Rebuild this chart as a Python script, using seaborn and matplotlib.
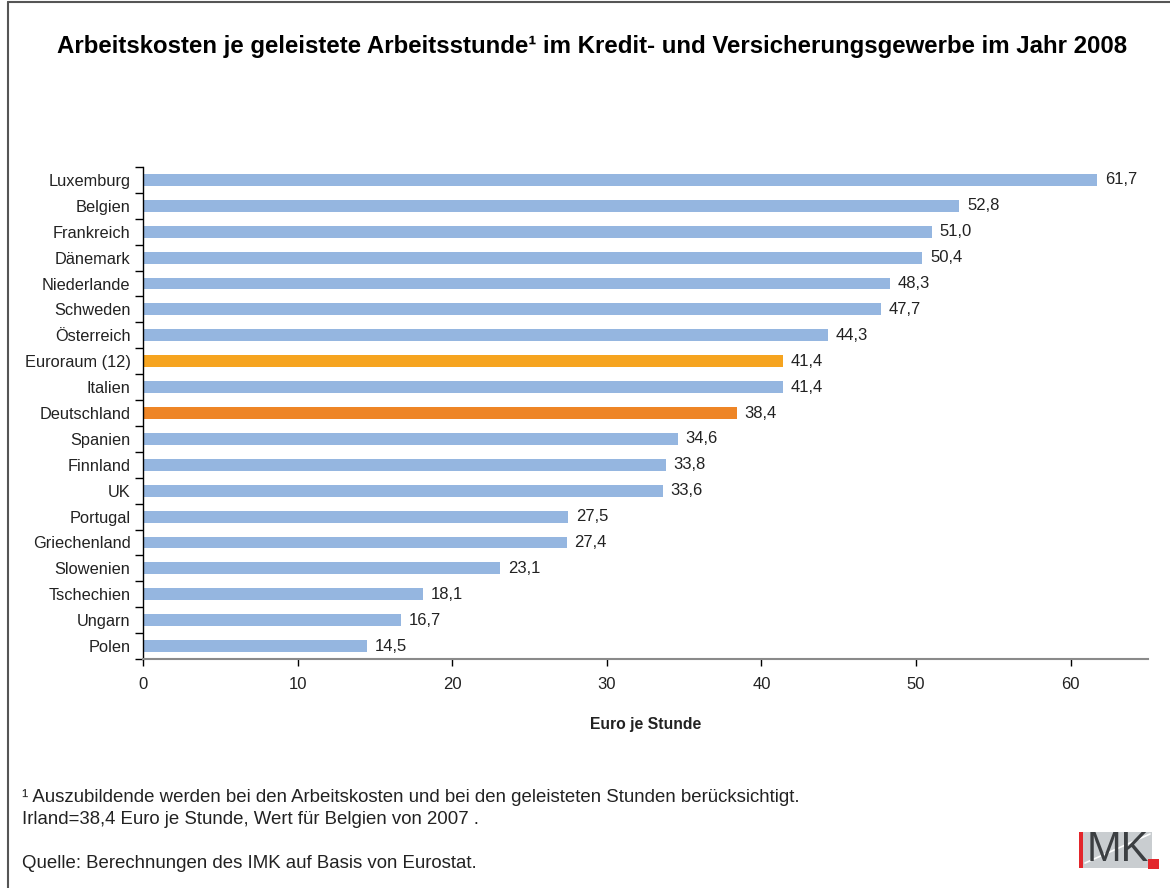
import numpy as np
import pandas as pd
import matplotlib
matplotlib.use('Agg')
import matplotlib.pyplot as plt
import seaborn as sns
from matplotlib.patches import Rectangle
from matplotlib.lines import Line2D

# ── Data ──
laender = ['Luxemburg', 'Belgien', 'Frankreich', 'Dänemark', 'Niederlande',
           'Schweden', 'Österreich', 'Euroraum (12)', 'Italien', 'Deutschland',
           'Spanien', 'Finnland', 'UK', 'Portugal', 'Griechenland',
           'Slowenien', 'Tschechien', 'Ungarn', 'Polen']
werte = [61.7, 52.8, 51.0, 50.4, 48.3, 47.7, 44.3, 41.4, 41.4, 38.4,
         34.6, 33.8, 33.6, 27.5, 27.4, 23.1, 18.1, 16.7, 14.5]

BLUE = '#95B6E0'
HIGHLIGHT = {'Euroraum (12)': '#F6A41F', 'Deutschland': '#EE8526'}
palette = {l: HIGHLIGHT.get(l, BLUE) for l in laender}

df = pd.DataFrame({'Land': laender, 'Wert': werte})

sns.set_style('white')
plt.rcParams['font.family'] = ['Liberation Sans', 'DejaVu Sans']
TXT = '#222222'

fig = plt.figure(figsize=(11.7, 8.88), dpi=100)
ax = fig.add_axes([143/1170, 1-659/888, (1148-143)/1170, (659-167)/888])

sns.barplot(data=df, y='Land', x='Wert', hue='Land', order=laender,
            palette=palette, legend=False, ax=ax, width=0.46,
            saturation=1, linewidth=0)

for i, v in enumerate(werte):
    ax.text(v + 0.5, i, f'{v:.1f}'.replace('.', ','), va='center', ha='left',
            fontsize=12, color=TXT)

ax.set_xlim(0, 65)
ax.set_ylim(len(laender) - 0.5, -0.5)
ax.set_xticks(np.arange(0, 61, 10))
ax.set_ylabel('')
ax.set_xlabel('Euro je Stunde', fontsize=11.3, fontweight='bold', color=TXT, labelpad=18)
ax.tick_params(axis='x', which='major', length=5, width=1, color='black',
               direction='out', labelsize=12, labelcolor=TXT, pad=8, bottom=True)
ax.tick_params(axis='y', which='major', length=0, labelsize=11.8, labelcolor=TXT, pad=9)
ax.set_yticks(np.arange(-0.5, len(laender) - 0.4, 1), minor=True)
ax.tick_params(axis='y', which='minor', length=6, width=1, color='black', direction='out', left=True)

for s in ['top', 'right']:
    ax.spines[s].set_visible(False)
ax.spines['left'].set_color('black')
ax.spines['left'].set_linewidth(1)
ax.spines['bottom'].set_color('#8a8a8a')
ax.spines['bottom'].set_linewidth(1.5)

# Title
fig.text(592/1170, 1 - 47/888, 'Arbeitskosten je geleistete Arbeitsstunde¹ im Kredit- und Versicherungsgewerbe im Jahr 2008',
         ha='center', va='center', fontsize=17.3, fontweight='bold', color='black')

# Footnotes
fig.text(22/1170, 1 - 797/888, '¹ Auszubildende werden bei den Arbeitskosten und bei den geleisteten Stunden berücksichtigt.',
         ha='left', va='center', fontsize=13.4, color=TXT)
fig.text(22/1170, 1 - 819/888, 'Irland=38,4 Euro je Stunde, Wert für Belgien von 2007 .',
         ha='left', va='center', fontsize=13.4, color=TXT)
fig.text(22/1170, 1 - 863/888, 'Quelle: Berechnungen des IMK auf Basis von Eurostat.',
         ha='left', va='center', fontsize=13.4, color=TXT)

# Frame lines (left and top)
fig.add_artist(Line2D([8/1170, 8/1170], [0, 1 - 2/888], transform=fig.transFigure, color='#555555', lw=1.5))
fig.add_artist(Line2D([8/1170, 1], [1 - 2/888, 1 - 2/888], transform=fig.transFigure, color='#555555', lw=1.5))

# IMK logo
def fx(px): return px / 1170
def fy(py): return 1 - py / 888
fig.add_artist(Rectangle((fx(1081), fy(868)), fx(1152) - fx(1081), fy(832) - fy(868),
                         transform=fig.transFigure, color='#C9CDD0', lw=0))
fig.add_artist(Line2D([fx(1085), fx(1150)], [fy(863), fy(834)], transform=fig.transFigure,
                      color='white', lw=1.2))
fig.add_artist(Rectangle((fx(1079), fy(868)), fx(1083) - fx(1079), fy(832) - fy(868),
                         transform=fig.transFigure, color='#E3262B', lw=0))
fig.text(fx(1087), fy(850), 'MK', ha='left', va='center', fontsize=30, color='#3c3f42',
         family=['Liberation Sans'])
fig.add_artist(Rectangle((fx(1148), fy(869)), fx(1159) - fx(1148), fy(859) - fy(869),
                         transform=fig.transFigure, color='#E3262B', lw=0))

fig.savefig('out.png', dpi=100, facecolor='white')
